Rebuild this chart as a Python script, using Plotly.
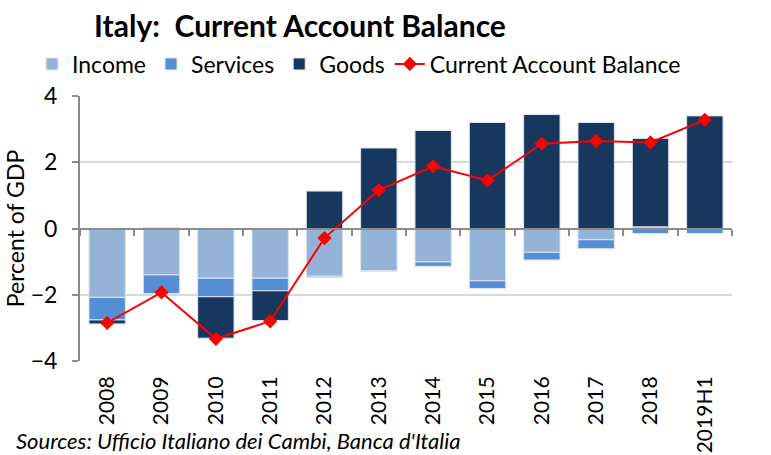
import plotly.graph_objects as go

categories = ["2008", "2009", "2010", "2011", "2012", "2013", "2014", "2015",
              "2016", "2017", "2018", "2019H1"]
income = [-2.08, -1.40, -1.50, -1.50, -1.44, -1.28, -1.01, -1.58, -0.72, -0.34, 0.05, -0.03]
services = [-0.68, -0.56, -0.56, -0.38, -0.04, -0.01, -0.13, -0.23, -0.23, -0.27, -0.15, -0.12]
goods = [-0.12, 0.03, -1.25, -0.90, 1.13, 2.43, 2.96, 3.20, 3.44, 3.20, 2.67, 3.40]
current_account = [-2.85, -1.93, -3.33, -2.80, -0.29, 1.16, 1.88, 1.45, 2.56, 2.64, 2.60, 3.28]

FONT = "Lato"
FS = 23
W, H = 771, 455
L, R, T, B = 80, 39, 96, 94
PW, PH = W - L - R, H - T - B
edge = dict(color="#DCE6F2", width=1)

fig = go.Figure()
fig.add_trace(go.Bar(x=categories, y=income, name="Income",
                     marker=dict(color="#95B3D7", line=edge)))
fig.add_trace(go.Bar(x=categories, y=services, name="Services",
                     marker=dict(color="#558ED5", line=edge)))
fig.add_trace(go.Bar(x=categories, y=goods, name="Goods",
                     marker=dict(color="#17375E", line=edge)))
fig.add_trace(go.Scatter(x=categories, y=current_account, name="Current Account Balance",
                         mode="lines+markers",
                         line=dict(color="#FF0000", width=2),
                         marker=dict(symbol="diamond", size=11, color="#FF0000")))
# helper trace for the category axis drawn at zero
fig.add_trace(go.Scatter(x=categories, y=[None] * len(categories), xaxis="x2",
                         showlegend=False, hoverinfo="skip"))

fig.update_layout(
    width=W, height=H,
    barmode="relative", bargap=0.33,
    plot_bgcolor="white", paper_bgcolor="white",
    font=dict(family=FONT, size=FS, color="#000000"),
    margin=dict(l=L, r=R, t=T, b=B, autoexpand=False),
    title=dict(text="<b>Italy:  Current Account Balance</b>", x=300 / W, xanchor="center",
               xref="container", y=1 - 26 / H, yanchor="middle", yref="container",
               font=dict(family=FONT, size=30, color="#000000"), automargin=False),
    legend=dict(orientation="h", x=32 / W, xanchor="left", xref="container",
                y=1 - 64 / H, yanchor="middle", yref="container",
                font=dict(family=FONT, size=FS), traceorder="normal",
                itemwidth=30, bgcolor="rgba(0,0,0,0)"),
    xaxis=dict(type="category", range=[-0.5, 11.5], showline=False,
               ticks="outside", ticklen=6, tickcolor="rgba(0,0,0,0)",
               tickangle=-90, tickfont=dict(size=21), showgrid=False, automargin=False),
    xaxis2=dict(type="category", overlaying="x", anchor="free", position=0.5,
                range=[-0.5, 11.5], showline=True, linecolor="#8C8C8C", linewidth=2,
                ticks="outside", tickson="boundaries", ticklen=6, tickwidth=2,
                tickcolor="#8C8C8C", showticklabels=False, showgrid=False, side="bottom",
                automargin=False),
    yaxis=dict(range=[-4, 4], dtick=2, showline=True, linecolor="#8C8C8C", linewidth=2,
               ticks="outside", ticklen=6, tickwidth=2, tickcolor="#8C8C8C",
               gridcolor="#D9D9D9", gridwidth=2, zeroline=False,
               tickfont=dict(size=FS), automargin=False, ticklabelstandoff=10,
               title=dict(text="Percent of GDP", font=dict(size=FS), standoff=0)),
    annotations=[dict(text="<i>Sources: Ufficio Italiano dei Cambi, Banca d'Italia</i>",
                      xref="paper", yref="paper", x=(14 - L) / PW, xanchor="left",
                      y=(T + PH - 440) / PH, yanchor="middle", showarrow=False,
                      font=dict(family=FONT, size=22, color="#000000"))],
)

fig.write_html("out.html", config={"displayModeBar": False},
               post_script="document.body.style.margin='0px';")
